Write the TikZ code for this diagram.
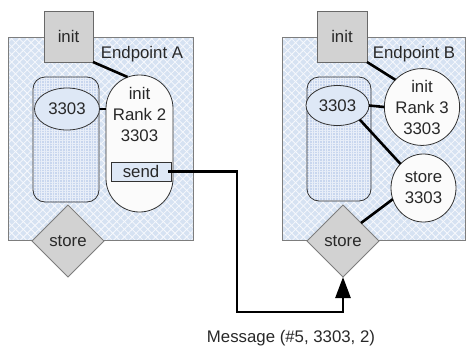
\documentclass[tikz,border=0pt]{standalone}
\usepackage{fontspec}
\setmainfont{Liberation Sans}
\usetikzlibrary{shapes.geometric,arrows.meta,patterns.meta,calc}
\definecolor{boxblue}{RGB}{214,226,242}
\definecolor{hatch}{RGB}{247,249,253}
\definecolor{boxedge}{RGB}{125,125,125}
\definecolor{innerblue}{RGB}{200,214,238}
\definecolor{gridline}{RGB}{232,238,248}
\definecolor{ellblue}{RGB}{222,232,246}
\definecolor{softwhite}{RGB}{251,251,251}
\definecolor{grayfill}{RGB}{210,210,210}
\definecolor{grayedge}{RGB}{105,105,105}
\definecolor{txt}{RGB}{40,40,40}
\definecolor{darkedge}{RGB}{50,50,50}
\begin{document}
\begin{tikzpicture}[x=1pt,y=-1pt,
  font=\fontsize{16.8}{21}\selectfont, text=txt,
  every node/.style={inner sep=0pt, outer sep=0pt},
  endpt/.style={rectangle, fill=boxblue,
    postaction={pattern={Lines[angle=45,distance=5.5pt,line width=0.8pt]}, pattern color=hatch},
    postaction={pattern={Lines[angle=-45,distance=5.5pt,line width=0.8pt]}, pattern color=hatch},
    postaction={draw=boxedge, line width=0.9pt}},
  pool/.style={rectangle, rounded corners=12pt, fill=innerblue,
    postaction={pattern={Lines[angle=0,distance=2.6pt,line width=0.9pt]}, pattern color=gridline},
    postaction={pattern={Lines[angle=90,distance=2.6pt,line width=0.9pt]}, pattern color=gridline},
    postaction={draw=darkedge, line width=0.8pt}},
  key/.style={ellipse, fill=ellblue, draw=darkedge, line width=0.8pt},
  proc/.style={fill=softwhite, draw=darkedge, line width=0.8pt},
  gray sq/.style={rectangle, fill=grayfill, draw=grayedge, line width=0.8pt},
  gray dia/.style={diamond, fill=grayfill, draw=boxedge, line width=0.8pt},
  conn/.style={line width=2.6pt, black},
  multi/.style={align=center}
]
\useasboundingbox (0,0) rectangle (466,346);

% Endpoint containers
\node[endpt, minimum width=185pt, minimum height=203pt] (epA) at (100.5,138.5) {};
\node[endpt, minimum width=183pt, minimum height=203pt] (epB) at (373.5,138.5) {};

% Endpoint A contents
\node[pool, minimum width=66pt, minimum height=125pt] (poolA) at (66,139.5) {};
\node[key, minimum width=65pt, minimum height=42pt] (ellA) at (67,109) {3303};
\node[proc, rectangle, rounded corners=33.5pt, minimum width=67pt, minimum height=137pt] (capA) at (139.5,143.5) {};
\node[multi] (capAtext) at (139.5,114) {init\\Rank 2\\3303};
\node[rectangle, fill=ellblue, draw=darkedge, line width=0.8pt, minimum width=60pt, minimum height=19pt] (sendA) at (141,171.5) {send};
\node[gray sq, minimum width=49pt, minimum height=51pt] (initA) at (68.5,36.5) {init};
\node (lblA) at (142,54) {Endpoint A};
\node[gray dia, minimum width=72pt, minimum height=72pt] (storeA) at (68,241) {store};

% Endpoint B contents
\node[pool, minimum width=64pt, minimum height=124pt] (poolB) at (339,139) {};
\node[key, minimum width=63pt, minimum height=40pt] (ellB) at (337.5,105.5) {3303};
\node[proc, ellipse, multi, minimum width=67pt, minimum height=73pt] (circB) at (422,107) {init\\Rank 3\\3303};
\node[proc, ellipse, multi, minimum width=65pt, minimum height=68pt] (storeC) at (423.5,188) {store\\3303};
\node[gray sq, minimum width=50pt, minimum height=51pt] (initB) at (342,36.5) {init};
\node (lblB) at (414,54) {Endpoint B};
\node[gray dia, minimum width=72pt, minimum height=72pt] (storeB) at (343,241) {store};

% Connectors A
\draw[conn] (initA.south east) -- ($(capA.north)+(-12,2)$);
\draw[conn] (ellA.east) -- (ellA.east -| capA.west);

% Connectors B
\draw[conn] (initB.south east) -- (circB.north west);
\draw[conn] (ellB.east) -- (circB.west);
\draw[conn] (ellB.south east) -- (storeC.north west);
\draw[conn] (storeC.200) -- (storeB.north east);

% Message
\coordinate (bend) at (237,312);
\draw[conn, -{Triangle[length=21pt,width=15pt]}] ($(sendA.east)+(-3,0)$) -| (bend) -| (storeB.south);
\node (msg) at (291,338) {Message (\#5, 3303, 2)};
\end{tikzpicture}
\end{document}
